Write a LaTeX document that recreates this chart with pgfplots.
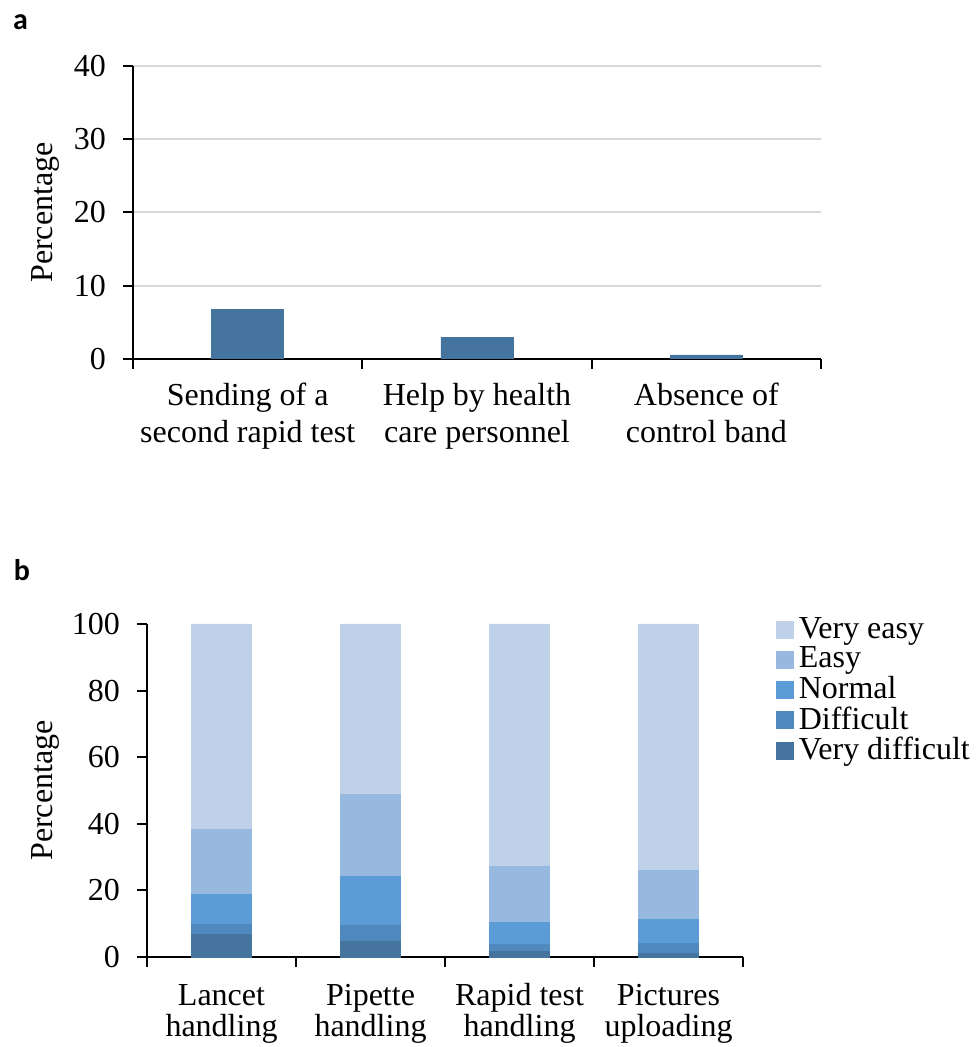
\documentclass[border=0pt]{standalone}
\usepackage{fontspec}
\setmainfont{Liberation Serif}
\newfontfamily\panelfont{Carlito}
\usepackage{pgfplots}
\pgfplotsset{compat=1.18}
\definecolor{cve}{RGB}{190,209,233}
\definecolor{ce}{RGB}{152,185,223}
\definecolor{cn}{RGB}{91,155,214}
\definecolor{cd}{RGB}{79,137,190}
\definecolor{cvd}{RGB}{69,116,159}
\definecolor{gridc}{RGB}{217,217,217}
\begin{document}
\fontsize{16}{18.5}\selectfont
\begin{tikzpicture}
\useasboundingbox (0,0) rectangle (488pt,523.5pt);
\node[font=\panelfont\bfseries\fontsize{15}{17}\selectfont, inner sep=0pt] at (10.25pt,512.25pt) {a};
\node[font=\panelfont\bfseries\fontsize{15}{17}\selectfont, inner sep=0pt] at (11pt,238.25pt) {b};
\pgfplotsset{
  common/.style={
    scale only axis,
    anchor=south west,
    axis x line*=bottom, axis y line*=left,
    axis line style={-, black, line width=1pt},
    tick align=outside,
    tick style={black, line width=1pt},
    major tick length=5pt,
    ymin=0,
    /pgf/number format/assume math mode=true,
    tick label style={font=\fontsize{16}{18.5}\selectfont},
    yticklabel style={xshift=-3pt},
    label style={font=\fontsize{16}{18.5}\selectfont},
    xticklabels={},
  }
}
\begin{axis}[common,
  at={(66.5pt,344pt)}, width=344pt, height=146.5pt,
  ymax=40, xmin=-0.5, xmax=2.5,
  ytick={0,10,20,30,40},
  xtick={-0.5,0.5,1.5,2.5},
  ymajorgrids, major grid style={gridc, line width=1pt},
  extra x ticks={0,1,2},
  extra x tick style={major tick length=0pt, grid=none,
    xticklabel style={align=center, anchor=base, yshift=-41.9pt, font=\fontsize{16}{18.4}\selectfont}},
  extra x tick labels={{Sending of a\\second rapid test},{Help by health\\care personnel},{Absence of\\control band}},
  ylabel={Percentage},
  ylabel style={at={(axis description cs:-0.1265,0.5)}, anchor=center},
  ybar, bar width=0.314,
]
\addplot[fill=cvd, draw=cvd] coordinates {(0,6.8) (1,3.0) (2,0.55)};
\end{axis}
\begin{axis}[common,
  at={(73.5pt,45pt)}, width=298pt, height=166.5pt,
  ymax=100, xmin=-0.5, xmax=3.5,
  ytick={0,20,40,60,80,100},
  xtick={-0.5,0.5,1.5,2.5,3.5},
  extra x ticks={0,1,2,3},
  extra x tick style={major tick length=0pt, grid=none,
    xticklabel style={align=center, anchor=base, yshift=-39.5pt, font=\fontsize{16}{15.5}\selectfont}},
  extra x tick labels={{Lancet\\handling},{Pipette\\handling},{Rapid test\\handling},{Pictures\\uploading}},
  ylabel={Percentage},
  ylabel style={at={(axis description cs:-0.171,0.5)}, anchor=center},
  ybar stacked, bar width=0.4,
  legend image code/.code={\fill[#1] (0pt,-4.25pt) rectangle (8.5pt,4.25pt);},
  reverse legend,
  legend style={at={(axis description cs:1.045,1.036)}, anchor=north west, draw=none, fill=none,
    font=\fontsize{16}{18}\selectfont, row sep=1pt, column sep=2pt, nodes={inner sep=0.4pt}},
  legend cell align=left,
]
\addplot[fill=cvd, draw=cvd] coordinates {(0,6.8) (1,4.7) (2,1.6) (3,1.0)};
\addplot[fill=cd, draw=cd] coordinates {(0,3.0) (1,4.7) (2,2.1) (3,3.0)};
\addplot[fill=cn, draw=cn] coordinates {(0,9.0) (1,14.8) (2,6.6) (3,7.2)};
\addplot[fill=ce, draw=ce] coordinates {(0,19.5) (1,24.7) (2,16.9) (3,14.8)};
\addplot[fill=cve, draw=cve] coordinates {(0,61.7) (1,51.1) (2,72.8) (3,74.0)};
\legend{Very difficult,Difficult,Normal,Easy,Very easy}
\end{axis}
\end{tikzpicture}
\end{document}
